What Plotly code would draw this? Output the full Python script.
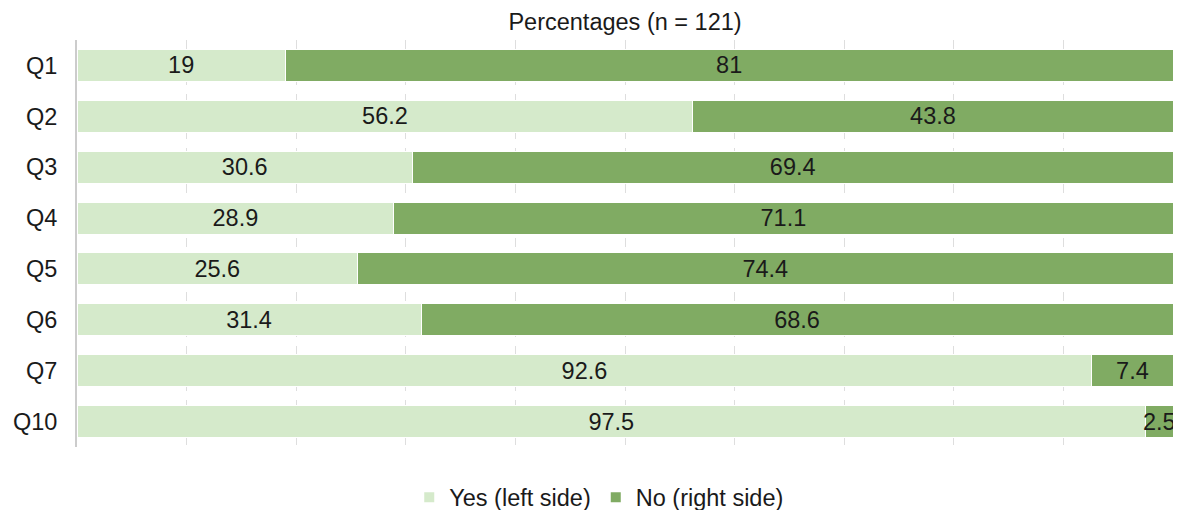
import plotly.graph_objects as go

categories = ["Q1", "Q2", "Q3", "Q4", "Q5", "Q6", "Q7", "Q10"]
yes_vals = [19, 56.2, 30.6, 28.9, 25.6, 31.4, 92.6, 97.5]
no_vals = [81, 43.8, 69.4, 71.1, 74.4, 68.6, 7.4, 2.5]
series_names = ["Yes (left side)", "No (right side)"]
title_text = "Percentages (n = 121)"

FONT = "Liberation Sans, Arial, sans-serif"
FS = 23.5
LIGHT = "#d5eacb"
DARK = "#80ab63"

fig = go.Figure()
for name, vals, color in [(series_names[0], yes_vals, LIGHT), (series_names[1], no_vals, DARK)]:
    fig.add_trace(go.Bar(
        y=categories, x=vals, name=name, orientation="h",
        marker=dict(color=color, line=dict(color="white", width=1)),
        text=[f"{v:g}" for v in vals], textposition="inside", textangle=0,
        insidetextanchor="middle", constraintext="none",
        textfont=dict(family=FONT, size=FS, color="#1a1a1a"),
        hoverinfo="skip",
    ))

fig.update_layout(
    barmode="stack", bargap=0.37,
    width=1180, height=510,
    margin=dict(l=77, r=7, t=40, b=63, autoexpand=False),
    paper_bgcolor="white", plot_bgcolor="white",
    font=dict(family=FONT, size=FS, color="#1a1a1a"),
    title=dict(text=title_text, x=0.5, xref="paper", xanchor="center",
               y=1, yref="paper", yanchor="bottom", pad=dict(b=10),
               font=dict(family=FONT, size=FS, color="#1a1a1a")),
    legend=dict(orientation="h", x=0.4765, xanchor="center", y=-0.07, yanchor="top",
                font=dict(family=FONT, size=FS, color="#1a1a1a"),
                itemsizing="constant", traceorder="normal"),
)
fig.update_xaxes(range=[0, 100], dtick=10, showticklabels=False,
                 showgrid=True, gridcolor="#dedede", gridwidth=1, griddash="dash",
                 zeroline=False, showline=False, fixedrange=True)
fig.update_yaxes(autorange="reversed", showgrid=False, zeroline=False,
                 showline=True, linecolor="#cccccc", linewidth=2,
                 ticks="", ticklabelstandoff=13,
                 tickfont=dict(family=FONT, size=FS, color="#1a1a1a"))

fig.write_html("out.html")
